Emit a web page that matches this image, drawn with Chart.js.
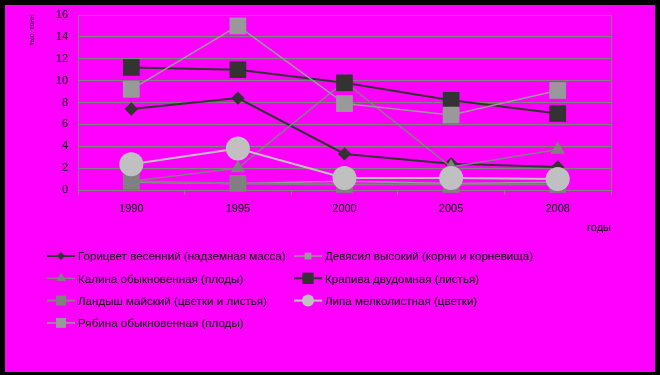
<!DOCTYPE html>
<html>
<head>
<meta charset="utf-8">
<script src="https://cdn.jsdelivr.net/npm/chart.js@4/dist/chart.umd.min.js"></script>
<style>
body { margin: 0; background: #000; }
#wrap { position: absolute; left: 5px; top: 5px; width: 650px; height: 367px; background: #ff00ff; }
</style>
</head>
<body>
<div id="wrap"><canvas id="myChart" width="650" height="367"></canvas></div>
<script>
// годы
var years = ["1990", "1995", "2000", "2005", "2008"];
var yTicks = [0, 2, 4, 6, 8, 10, 12, 14, 16];

var names = [
    "Горицвет весенний (надземная масса)",
    "Девясил высокий (корни и корневища)",
    "Калина обыкновенная (плоды)",
    "Крапива двудомная (листья)",
    "Ландыш майский (цветки и листья)",
    "Липа мелколистная (цветки)",
    "Рябина обыкновенная (плоды)"
];

var goricvet = [7.4, 8.4, 3.3, 2.4, 2.1];
var devyasil = [0.7, 0.6, 0.8, 0.6, 0.7];
var kalina = [0.8, 2.0, 9.9, 2.1, 3.7];
var krapiva = [11.2, 11.0, 9.8, 8.2, 7.0];
var landysh = [0.8, 0.6, 0.5, 0.5, 0.5];
var lipa = [2.35, 3.8, 1.1, 1.1, 1.0];
var ryabina = [9.2, 15.0, 7.9, 6.85, 9.1];

var font = { family: "'Liberation Sans', Arial, sans-serif", size: 11 };

function series(i, data, color, style, r, lr, w) {
    return {
        label: names[i],
        data: data,
        borderColor: color,
        backgroundColor: color,
        borderWidth: w,
        pointStyle: style,
        pointRadius: r,
        pointHoverRadius: r,
        pointBorderWidth: 0,
        pointBackgroundColor: color,
        legendRadius: lr,
        tension: 0,
        clip: false,
        order: 6 - i
    };
}

// legend + right border, drawn by hand (two aligned columns)
var legendPlugin = {
    id: "legendCols",
    afterDraw: function(chart) {
        var ctx = chart.ctx;
        var a = chart.chartArea;
        ctx.save();
        ctx.strokeStyle = "#808080";
        ctx.lineWidth = 1;
        ctx.beginPath();
        ctx.moveTo(Math.round(a.right) + 0.5, a.top);
        ctx.lineTo(Math.round(a.right) + 0.5, a.bottom);
        ctx.stroke();

        var cols = [42, 289];
        var rowY = 251, rowH = 22.3;
        ctx.font = "11.6px 'Liberation Sans', Arial, sans-serif";
        ctx.textBaseline = "middle";
        ctx.textAlign = "left";
        chart.data.datasets.forEach(function(ds, i) {
            var x = cols[i % 2];
            var y = rowY + Math.floor(i / 2) * rowH;
            ctx.strokeStyle = ds.borderColor;
            ctx.lineWidth = ds.borderWidth;
            ctx.beginPath();
            ctx.moveTo(x, y);
            ctx.lineTo(x + 28, y);
            ctx.stroke();
            ctx.fillStyle = ds.backgroundColor;
            Chart.helpers.drawPoint(ctx, { pointStyle: ds.pointStyle, radius: ds.legendRadius, borderWidth: 0, rotation: 0 }, x + 14, y);
            ctx.fillStyle = "#000";
            ctx.fillText(ds.label, x + 31, y + 1);
        });
        ctx.restore();
    }
};

new Chart(document.getElementById("myChart"), {
    type: "line",
    data: {
        labels: years,
        datasets: [
            series(0, goricvet, "#333333", "rectRot", 6.7, 4, 2),
            series(1, devyasil, "#999999", "rect", 4, 4.7, 1.5),
            series(2, kalina, "#808080", "triangle", 8.3, 5.5, 1.5),
            series(3, krapiva, "#333333", "rect", 11.8, 8, 2),
            series(4, landysh, "#808080", "rect", 11.8, 7, 2),
            series(5, lipa, "#c0c0c0", "circle", 12, 6, 2),
            series(6, ryabina, "#999999", "rect", 11.8, 7, 1.5)
        ]
    },
    options: {
        responsive: false,
        animation: false,
        layout: { autoPadding: false, padding: { left: 0, right: 44, top: 10, bottom: 132 } },
        plugins: {
            legend: { display: false },
            tooltip: { enabled: false }
        },
        scales: {
            x: {
                offset: true,
                grid: { offset: true, drawOnChartArea: false, color: "#808080", tickLength: 5 },
                border: { color: "#808080" },
                ticks: { color: "#000", font: font, padding: 7, maxRotation: 0 },
                title: { display: true, text: "годы", align: "end", color: "#000", font: font, padding: { top: 0, bottom: 5 } },
                afterFit: function(s) { s.height = 50; s.paddingLeft = 0; s.paddingRight = 0; }
            },
            y: {
                min: 0,
                max: 16,
                afterBuildTicks: function(s) { s.ticks = yTicks.map(function(v) { return { value: v }; }); },
                grid: { color: "#808080", drawTicks: false },
                border: { color: "#808080" },
                ticks: { color: "#000", font: font, padding: 10 },
                title: { display: true, text: "тыс. тонн", align: "end", color: "#000", font: { family: font.family, size: 7 }, padding: { top: 23, bottom: 0 } },
                afterFit: function(s) { s.width = 73; s.paddingTop = 0; s.paddingBottom = 0; }
            }
        }
    },
    plugins: [legendPlugin]
});
</script>
</body>
</html>
